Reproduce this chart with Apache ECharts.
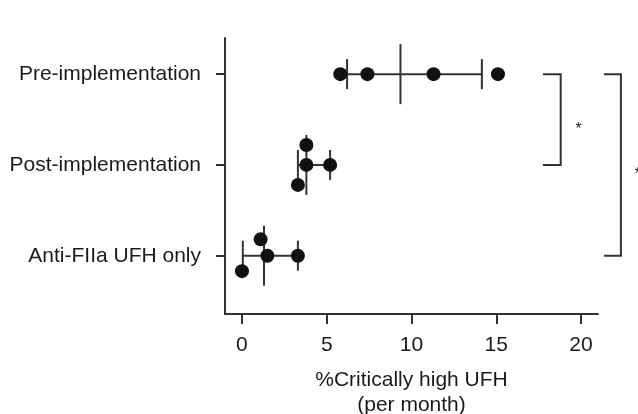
<!DOCTYPE html>
<html>
<head>
<meta charset="utf-8">
<script src="https://cdn.jsdelivr.net/npm/echarts@6/dist/echarts.min.js"></script>
<style>html,body{margin:0;padding:0;background:#fff;}#c{width:638px;height:414px;}</style>
</head>
<body>
<div id="c"></div>
<script>
// Categories (bottom to top on the y axis: index 0, 1, 2)
var categories = ['Anti-FIIa UFH only', 'Post-implementation', 'Pre-implementation'];
var xTicks = [0, 5, 10, 15, 20];

// Monthly values per group, and their small vertical jitter (in category units)
var antiValues = [1.1, 1.5, 3.3, 0.0];
var antiJitter = [0.18, 0, 0, -0.17];
var postValues = [3.8, 3.8, 5.2, 3.3];
var postJitter = [0.22, 0, 0, -0.22];
var preValues = [5.8, 7.4, 11.3, 15.1];
var preJitter = [0, 0, 0, 0];

// Summary: centre line, lower whisker, upper whisker
var antiSummary = [1.3, 0.05, 3.3];
var postSummary = [3.8, 3.3, 5.2];
var preSummary = [9.35, 6.2, 14.15];

// Significance brackets: [xLeft, xRight, fromCategory, toCategory, label]
var brackets = [
  [17.75, 18.8, 2, 1, '*'],
  [21.35, 22.35, 2, 0, '*']
];

var groups = [
  {v: 0, values: antiValues, jitter: antiJitter, summary: antiSummary},
  {v: 1, values: postValues, jitter: postJitter, summary: postSummary},
  {v: 2, values: preValues, jitter: preJitter, summary: preSummary}
];

var dots = [];
var summaries = [];
groups.forEach(function (g) {
  g.values.forEach(function (x, i) { dots.push([x, g.v + g.jitter[i]]); });
  summaries.push([g.summary[0], g.summary[1], g.summary[2], g.v]);
});

var ink = '#333';
var font = 'Liberation Sans, Arial, Helvetica, sans-serif';

var chart = echarts.init(document.getElementById('c'), null, {renderer: 'canvas'});
chart.setOption({
  animation: false,
  backgroundColor: '#fff',
  grid: {left: 225, right: 40, top: 38, bottom: 100, containLabel: false, outerBoundsMode: 'none'},
  xAxis: {
    type: 'value', min: -1, max: 21,
    axisLine: {show: true, onZero: false, lineStyle: {color: ink, width: 2}},
    axisTick: {show: true, customValues: xTicks, length: 10, lineStyle: {color: ink, width: 2}},
    axisLabel: {customValues: xTicks, fontSize: 21, fontFamily: font, color: '#1a1a1a', margin: 21},
    splitLine: {show: false},
    name: '%Critically high UFH\n(per month)',
    nameLocation: 'middle', nameGap: 54,
    nameTextStyle: {fontSize: 21, fontFamily: font, color: '#1a1a1a', lineHeight: 25}
  },
  yAxis: {
    type: 'value', min: -0.642, max: 2.398,
    axisLine: {show: true, onZero: false, lineStyle: {color: ink, width: 2}},
    axisTick: {show: true, customValues: [0, 1, 2], length: 9, lineStyle: {color: ink, width: 2}},
    axisLabel: {
      customValues: [0, 1, 2], fontSize: 21, fontFamily: font, color: '#1a1a1a', margin: 24,
      formatter: function (v) { return categories[Math.round(v)]; }
    },
    splitLine: {show: false}
  },
  series: [
    {
      type: 'custom',
      data: summaries,
      encode: {x: [0, 1, 2], y: 3},
      clip: false,
      renderItem: function (params, api) {
        var v = api.value(3);
        var c = api.coord([api.value(0), v]);
        var lo = api.coord([api.value(1), v]);
        var hi = api.coord([api.value(2), v]);
        var st = {stroke: ink, lineWidth: 2};
        return {type: 'group', children: [
          {type: 'line', shape: {x1: lo[0], y1: lo[1], x2: hi[0], y2: hi[1]}, style: st},
          {type: 'line', shape: {x1: lo[0], y1: lo[1] - 15, x2: lo[0], y2: lo[1] + 15}, style: st},
          {type: 'line', shape: {x1: hi[0], y1: hi[1] - 15, x2: hi[0], y2: hi[1] + 15}, style: st},
          {type: 'line', shape: {x1: c[0], y1: c[1] - 30, x2: c[0], y2: c[1] + 30}, style: st}
        ]};
      },
      z: 2
    },
    {
      type: 'scatter',
      data: dots,
      symbol: 'circle',
      symbolSize: 14,
      itemStyle: {color: '#111', opacity: 1},
      z: 3
    },
    {
      type: 'custom',
      data: brackets,
      encode: {x: [0, 1], y: [2, 3]},
      clip: false,
      renderItem: function (params, api) {
        var xl = api.value(0), xr = api.value(1), a = api.value(2), b = api.value(3);
        var tl = api.coord([xl, a]), tr = api.coord([xr, a]);
        var bl = api.coord([xl, b]), br = api.coord([xr, b]);
        var mid = api.coord([xr + (xr - xl), (a + b) / 2]);
        return {type: 'group', children: [
          {type: 'polyline', shape: {points: [tl, tr, br, bl]}, style: {stroke: ink, lineWidth: 2, fill: null}},
          {type: 'text', style: {text: brackets[params.dataIndex][4], x: mid[0], y: mid[1] + 10,
            fontSize: 16, fontFamily: font, fill: '#1a1a1a', align: 'center', verticalAlign: 'middle'}}
        ]};
      },
      z: 2
    }
  ]
});
</script>
</body>
</html>
